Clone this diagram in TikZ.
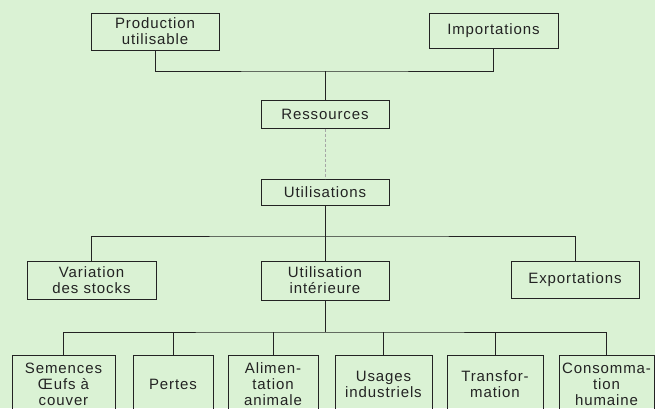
\documentclass[tikz,border=0pt]{standalone}
\usepackage{fontspec}
\setmainfont{Liberation Sans}[LetterSpace=6]
\definecolor{bg}{RGB}{218,242,212}
\definecolor{ink}{RGB}{35,35,35}
\begin{document}
\begin{tikzpicture}[x=1pt,y=-1pt,
  box/.style={draw=ink,line width=1pt,text=ink,align=center,inner sep=0pt,
    font=\fontsize{15}{16}\selectfont},
  link/.style={draw=ink,line width=1pt},
  faint/.style={draw=black!35,line width=0.6pt,dash pattern=on 3pt off 2pt}]
\useasboundingbox (0,0) rectangle (655,408);
\fill[bg] (0,0) rectangle (655,408);
\clip (0,0) rectangle (655,408);
% top level
\node[box,minimum width=128pt,minimum height=37pt] (prod) at (155,31.5) {Production\\utilisable};
\node[box,minimum width=129pt,minimum height=35pt] (imp) at (493.5,30.5) {Importations};
\node[box,minimum width=128pt,minimum height=28pt] (res) at (325,114) {Ressources};
\node[box,minimum width=128pt,minimum height=26pt] (uti) at (325,192) {Utilisations};
% middle level
\node[box,minimum width=129pt,minimum height=38pt] (var) at (91.5,280) {Variation\\des stocks};
\node[box,minimum width=128pt,minimum height=39pt] (int) at (325,280.5) {Utilisation\\intérieure};
\node[box,minimum width=128pt,minimum height=37pt] (exp) at (575,279.5) {Exportations};
% bottom level
\node[box,minimum width=103pt,minimum height=58pt] (sem) at (63.5,384) {Semences\\Œufs à\\couver};
\node[box,minimum width=80pt,minimum height=58pt] (per) at (173,384) {Pertes};
\node[box,minimum width=90pt,minimum height=58pt] (ali) at (273,384) {Alimen-\\tation\\animale};
\node[box,minimum width=97pt,minimum height=58pt] (usa) at (383.5,384) {Usages\\industriels};
\node[box,minimum width=96pt,minimum height=58pt] (tra) at (495,384) {Transfor-\\mation};
\node[box,minimum width=95pt,minimum height=58pt] (con) at (606.5,384) {Consomma-\\tion\\humaine};
% bus coordinates
\coordinate (b1) at (325,71);
\coordinate (b2) at (325,236);
\coordinate (b3) at (325,332);
% connectors
\draw[link] (prod.south) |- (b1) -| (imp.south);
\draw[link] (b1) -- (res.north);
\draw[faint] (res.south) -- (uti.north);
\draw[link] (uti.south) -- (b2);
\draw[link] (var.north) |- (b2) -| (exp.north);
\draw[link] (b2) -- (int.north);
\draw[link] (int.south) -- (b3);
\draw[link] (sem.north) |- (b3) -| (con.north);
\draw[link] (per.north) -- (per.north |- b3);
\draw[link] (ali.north) -- (ali.north |- b3);
\draw[link] (usa.north) -- (usa.north |- b3);
\draw[link] (tra.north) -- (tra.north |- b3);
\end{tikzpicture}
\end{document}
